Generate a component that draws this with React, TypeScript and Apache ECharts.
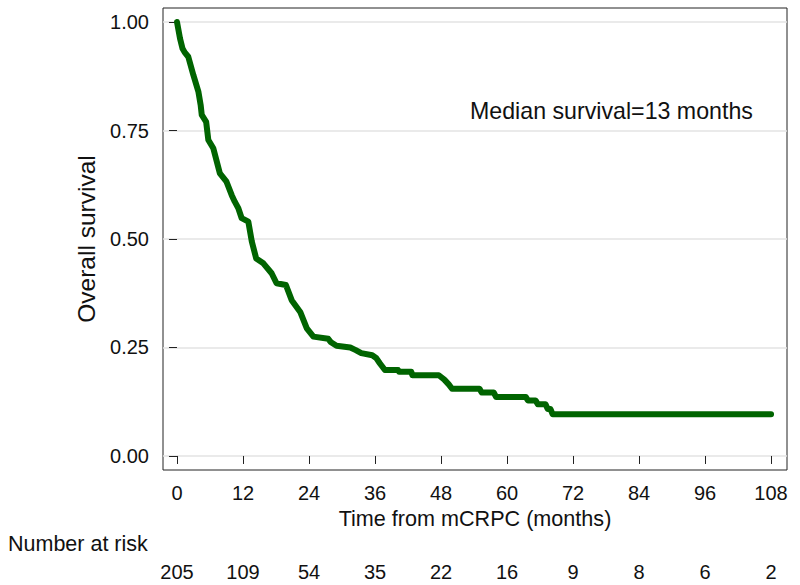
import React, { useEffect, useRef } from "react";
import * as echarts from "echarts";

// Kaplan–Meier estimate (months, survival)
const months: number[] = [
  0, 0.55, 1.0, 1.4, 2.05, 2.97, 3.9, 4.3, 4.5, 5.3, 5.7, 6.6, 7.8, 9.0, 9.95,
  10.5, 11.15, 11.76, 12.97, 13.6, 14.4, 15.7, 17.2, 18.1, 19.8, 20.85, 22.4,
  23.6, 24.8, 27.5, 28, 29, 31.5, 32.5, 33.5, 35.5, 36.2, 36.9, 37.8, 40.2,
  40.4, 42.6, 42.8, 47.6, 48.6, 49.4, 50, 55, 55.4, 57.6, 58, 63.4, 63.8, 65.2,
  65.6, 67.0, 67.4, 67.9, 68.3, 108,
];
const survival: number[] = [
  1.0, 0.962, 0.939, 0.93, 0.92, 0.878, 0.839, 0.809, 0.786, 0.77, 0.728,
  0.709, 0.651, 0.632, 0.601, 0.586, 0.571, 0.548, 0.54, 0.494, 0.455, 0.444,
  0.421, 0.398, 0.394, 0.359, 0.332, 0.294, 0.275, 0.27, 0.262, 0.254, 0.25,
  0.244, 0.237, 0.232, 0.226, 0.213, 0.198, 0.198, 0.194, 0.194, 0.186, 0.186,
  0.176, 0.165, 0.155, 0.155, 0.146, 0.146, 0.136, 0.136, 0.128, 0.128, 0.119,
  0.119, 0.108, 0.108, 0.096, 0.096,
];

const xTicks: number[] = [0, 12, 24, 36, 48, 60, 72, 84, 96, 108];
const atRisk: number[] = [205, 109, 54, 35, 22, 16, 9, 8, 6, 2];
const yTicks: number[] = [0, 0.25, 0.5, 0.75, 1];

const FONT = "'Liberation Sans', Arial, Helvetica, sans-serif";
const TXT = "#111";

export default function App() {
  const ref = useRef<HTMLDivElement>(null);
  useEffect(() => {
    if (!ref.current) return;
    const chart = echarts.init(ref.current, null, { renderer: "svg" });
    const data = months.map((m, i) => [m, survival[i]]);
    chart.setOption({
      animation: false,
      backgroundColor: "#fff",
      textStyle: { fontFamily: FONT },
      grid: {
        left: 163,
        right: 13,
        top: 8,
        bottom: 115,
        show: true,
        borderColor: "#222",
        borderWidth: 1,
        backgroundColor: "transparent",
      },
      xAxis: [
        {
          type: "value",
          min: -2.545,
          max: 110.9,
          position: "bottom",
          axisLine: { show: false },
          axisTick: {
            show: true,
            customValues: xTicks,
            length: 8,
            lineStyle: { color: "#222", width: 1 },
          },
          axisLabel: {
            customValues: xTicks,
            fontSize: 20,
            color: TXT,
            margin: 13,
            fontFamily: FONT,
          },
          splitLine: { show: false },
          name: "Time from mCRPC (months)",
          nameLocation: "middle",
          nameGap: 36,
          nameTextStyle: { fontSize: 21.6, color: TXT, fontFamily: FONT, verticalAlign: "top" },
        },
        {
          type: "value",
          min: -2.545,
          max: 110.9,
          position: "bottom",
          offset: 80,
          axisLine: { show: false },
          axisTick: { show: false, customValues: xTicks },
          axisLabel: {
            customValues: xTicks,
            fontSize: 20,
            color: TXT,
            margin: 12,
            fontFamily: FONT,
            formatter: (v: number) => {
              const i = xTicks.indexOf(Math.round(v));
              return i >= 0 ? String(atRisk[i]) : "";
            },
          },
          splitLine: { show: false },
        },
      ],
      yAxis: {
        type: "value",
        min: -0.0323,
        max: 1.0323,
        axisLine: { show: false },
        axisTick: {
          show: true,
          customValues: yTicks,
          length: 8,
          lineStyle: { color: "#222", width: 1 },
        },
        axisLabel: {
          customValues: yTicks,
          fontSize: 20,
          color: TXT,
          margin: 14,
          fontFamily: FONT,
          formatter: (v: number) => v.toFixed(2),
        },
        splitLine: { show: true, lineStyle: { color: "#e3e3e3", width: 1.5 } },
        name: "Overall survival",
        nameLocation: "middle",
        nameGap: 63,
        nameTextStyle: { fontSize: 24.5, color: TXT, fontFamily: FONT },
      },
      graphic: [
        {
          type: "text",
          left: 470,
          top: 99,
          style: { text: "Median survival=13 months", fontSize: 23.2, fill: TXT, fontFamily: FONT },
        },
        {
          type: "text",
          left: 8,
          top: 533,
          style: { text: "Number at risk", fontSize: 21.5, fill: TXT, fontFamily: FONT },
        },
      ],
      series: [
        {
          type: "line",
          xAxisIndex: 0,
          data,
          showSymbol: false,
          symbol: "none",
          lineStyle: { color: "#006400", width: 6, cap: "round", join: "round" },
          z: 5,
        },
      ],
    });
    return () => chart.dispose();
  }, []);
  return (
    <div
      ref={ref}
      style={{ position: "fixed", left: 0, top: 0, width: 800, height: 585, background: "#fff" }}
    />
  );
}
